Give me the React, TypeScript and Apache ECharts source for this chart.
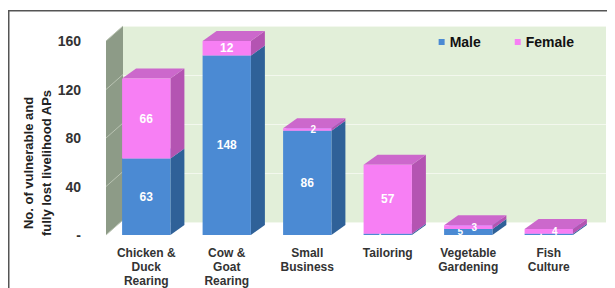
import React, { useEffect, useRef } from "react";
import * as echarts from "echarts";

const categories = [
  "Chicken &\nDuck\nRearing",
  "Cow &\nGoat\nRearing",
  "Small\nBusiness",
  "Tailoring",
  "Vegetable\nGardening",
  "Fish\nCulture",
];
const maleValues = [63, 148, 86, 1, 5, 1];
const femaleValues = [66, 12, 2, 57, 3, 4];
const yTicks = [0, 40, 80, 120, 160];
const yTickLabels = ["-", "40", "80", "120", "160"];
const yTitle = "No. of vulnerable and\nfully lost livelihood APs";

const FONT = "'Liberation Sans', Arial, sans-serif";
const BDX = 14;
const BDY = 10;
const WDX = 17;
const WDY = 15;

const maleColors = { front: "#4b8ad3", side: "#2f6198", top: "#79a7df" };
const femaleColors = { front: "#f77ff4", side: "#b454b2", top: "#cc68cc" };

function boxSeries(name: string, base: number[], vals: number[], colors: any, labelShift: number) {
  return {
    type: "custom",
    name,
    xAxisIndex: 0,
    yAxisIndex: 0,
    itemStyle: { color: colors.front },
    data: vals.map((v, i) => [i, base[i], base[i] + v, v]),
    renderItem: (params: any, api: any) => {
      const i = api.value(0);
      const top = api.coord([i, api.value(2)]);
      const bot = api.coord([i, api.value(1)]);
      const w = api.size([1, 0])[0] * 0.6;
      const l = top[0] - w / 2;
      const r = l + w;
      const yt = top[1];
      const yb = bot[1];
      const small = yb - yt < 14;
      return {
        type: "group",
        children: [
          {
            type: "polygon",
            shape: { points: [[r, yt], [r + BDX, yt - BDY], [r + BDX, yb - BDY], [r, yb]] },
            style: { fill: colors.side },
          },
          {
            type: "polygon",
            shape: { points: [[l, yt], [l + BDX, yt - BDY], [r + BDX, yt - BDY], [r, yt]] },
            style: { fill: colors.top },
          },
          {
            type: "rect",
            shape: { x: l, y: yt, width: w, height: yb - yt },
            style: { fill: colors.front },
          },
          {
            type: "text",
            style: {
              text: String(api.value(3)),
              x: (l + r) / 2 + (small ? labelShift : 0),
              y: (yt + yb) / 2,
              fill: "#ffffff",
              font: `bold ${small ? 10 : 12}px ${FONT}`,
              align: "center",
              verticalAlign: "middle",
            },
          },
        ],
      };
    },
  };
}

export default function App() {
  const ref = useRef<HTMLDivElement>(null);
  useEffect(() => {
    if (!ref.current) return;
    const chart = echarts.init(ref.current, null, { renderer: "svg" });
    const yMax = yTicks[yTicks.length - 1];
    const zeros = maleValues.map(() => 0);
    chart.setOption({
      animation: false,
      backgroundColor: "#ffffff",
      grid: [
        { left: 98, top: 33, width: 483, height: 196 },
        { left: 98 + WDX, top: 33 - WDY, width: 483, height: 196 },
      ],
      legend: {
        data: ["Male", "Female"],
        right: 36,
        top: 22,
        icon: "rect",
        itemWidth: 6,
        itemHeight: 6,
        itemGap: 34,
        textStyle: { fontFamily: FONT, fontWeight: "bold", fontSize: 14, color: "#111" },
      },
      xAxis: [
        {
          type: "category",
          gridIndex: 0,
          data: categories,
          axisLine: { show: false },
          axisTick: { show: false },
          axisLabel: {
            interval: 0,
            margin: 11,
            fontFamily: FONT,
            fontWeight: "bold",
            fontSize: 12,
            lineHeight: 14,
            color: "#333",
          },
        },
        {
          type: "category",
          gridIndex: 1,
          data: categories,
          axisLine: { show: false },
          axisTick: { show: false },
          axisLabel: { show: false },
        },
      ],
      yAxis: [
        {
          type: "value",
          gridIndex: 0,
          min: 0,
          max: yMax,
          interval: 40,
          splitLine: { show: false },
          axisLine: { show: false },
          axisTick: { show: false },
          axisLabel: {
            margin: 25,
            fontFamily: FONT,
            fontWeight: "bold",
            fontSize: 14,
            color: "#333",
            formatter: (v: number) => yTickLabels[yTicks.indexOf(v)] ?? String(v),
          },
        },
        {
          type: "value",
          gridIndex: 1,
          min: 0,
          max: yMax,
          interval: 40,
          axisLine: { show: false },
          axisTick: { show: false },
          axisLabel: { show: false },
          splitLine: { show: true, lineStyle: { color: "#f3f8ee", width: 1 } },
          splitArea: { show: true, areaStyle: { color: ["#e2efd9"] } },
        },
      ],
      graphic: [
        {
          type: "rect",
          silent: true,
          shape: { x: 0.75, y: 2.75, width: 640, height: 400 },
          style: { fill: "none", stroke: "#555", lineWidth: 1.5 },
        },
        {
          type: "text",
          x: 29,
          y: 155,
          rotation: Math.PI / 2,
          style: {
            text: yTitle,
            font: `bold 13px ${FONT}`,
            fill: "#222",
            align: "center",
            verticalAlign: "middle",
            lineHeight: 18,
          },
        },
      ],
      series: [
        {
          type: "custom",
          name: "wall",
          xAxisIndex: 0,
          yAxisIndex: 0,
          silent: true,
          data: [[0, 0]],
          renderItem: (params: any, api: any) => {
            const cs = params.coordSys;
            const x0 = cs.x;
            const y0 = api.coord([0, 0])[1];
            const yT = api.coord([0, yMax])[1];
            const children: any[] = [
              {
                type: "polygon",
                shape: { points: [[x0, y0], [x0, yT], [x0 + WDX, yT - WDY], [x0 + WDX, y0 - WDY]] },
                style: { fill: "#8d9b87" },
              },
            ];
            yTicks.forEach((v) => {
              const y = api.coord([0, v])[1];
              children.push({
                type: "line",
                shape: { x1: x0, y1: y, x2: x0 + WDX, y2: y - WDY },
                style: { stroke: "#b9c3b2", lineWidth: 1 },
              });
            });
            return { type: "group", children };
          },
        },
        boxSeries("Male", zeros, maleValues, maleColors, -8),
        boxSeries("Female", maleValues, femaleValues, femaleColors, 6),
      ],
    });
    return () => chart.dispose();
  }, []);
  return <div ref={ref} style={{ width: 607, height: 280 }} />;
}
